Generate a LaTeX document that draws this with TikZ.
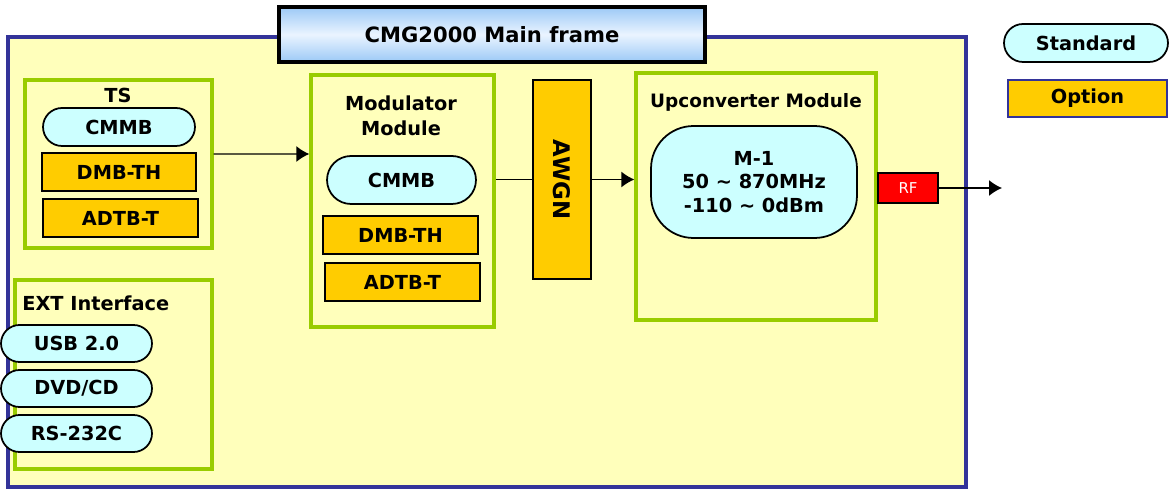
\documentclass[tikz,border=0pt]{standalone}
\usepackage{fontspec}
\setmainfont{DejaVu Sans}
\usetikzlibrary{arrows.meta}
\definecolor{frameyellow}{HTML}{FFFFBB}
\definecolor{frameblue}{HTML}{333399}
\definecolor{boxgreen}{HTML}{99CC00}
\definecolor{stdcyan}{HTML}{CCFFFF}
\definecolor{optorange}{HTML}{FFCC00}
\definecolor{titleblue}{HTML}{9CC9F6}
\definecolor{titlelight}{HTML}{EAF4FF}

\begin{document}
\begin{tikzpicture}[x=0.02cm,y=-0.02cm,font=\bfseries\fontsize{11}{13}\selectfont]

	\tikzstyle{mybox}=[draw=boxgreen,line width=1.9pt,fill=frameyellow,inner sep=0pt]
	\tikzstyle{mypill}=[draw=black,line width=1pt,fill=stdcyan,inner sep=0pt,rounded corners=0.38cm,minimum height=0.76cm]
	\tikzstyle{myopt}=[draw=black,line width=1pt,fill=optorange,inner sep=0pt,minimum height=0.76cm]
	\tikzstyle{myarrow}=[line width=0.8pt,-{Latex[length=0.26cm,width=0.32cm]}]

	\useasboundingbox (0,0) rectangle (1176,489);

	% main frame and title
	\node[draw=frameblue,line width=2.2pt,fill=frameyellow,minimum width=19.16cm,minimum height=9cm] (frame) at (487,262) {};
	\node[draw=black,line width=2.2pt,top color=titleblue,bottom color=titleblue,middle color=titlelight,
		minimum width=8.52cm,minimum height=1.1cm,font=\bfseries\fontsize{12}{14}\selectfont] (title) at (492,34.5) {CMG2000 Main frame};

	% TS
	\node[mybox,minimum width=3.74cm,minimum height=3.36cm] (ts) at (118.5,164) {};
	\node (tslabel) at (118,95) {TS};
	\node[mypill,minimum width=3.04cm] (tscmmb) at (119,127) {CMMB};
	\node[myopt,minimum width=3.08cm] (tsdmb) at (119,172) {DMB-TH};
	\node[myopt,minimum width=3.1cm] (tsadtb) at (120.5,218) {ADTB-T};

	% Modulator
	\node[mybox,minimum width=3.66cm,minimum height=5.04cm] (mod) at (402.5,201) {};
	\node[align=center,font=\bfseries\fontsize{11}{14.5}\selectfont] (modlabel) at (401,116) {Modulator\\Module};
	\node[mypill,minimum width=2.98cm,minimum height=0.96cm,rounded corners=0.48cm] (modcmmb) at (401.5,180) {CMMB};
	\node[myopt,minimum width=3.1cm] (moddmb) at (400.5,235) {DMB-TH};
	\node[myopt,minimum width=3.1cm] (modadtb) at (402.5,282) {ADTB-T};

	% AWGN
	\node[myopt,minimum width=1.16cm,minimum height=3.98cm,
		label={[rotate=-90,font=\bfseries\fontsize{13}{15}\selectfont]center:AWGN}] (awgn) at (562,179.5) {};

	% Upconverter
	\node[mybox,minimum width=4.8cm,minimum height=4.94cm] (up) at (756,196.5) {};
	\node[font=\bfseries\fontsize{10.5}{12}\selectfont] (uplabel) at (756,102) {Upconverter Module};
	\node[draw=black,line width=1pt,fill=stdcyan,rounded corners=0.85cm,minimum width=4.12cm,minimum height=2.24cm,
		align=center,font=\bfseries\fontsize{11}{13.5}\selectfont] (mone) at (754,182) {M-1\\50 \char`\~{} 870MHz\\-110 \char`\~{} 0dBm};
	\node[draw=black,line width=1.2pt,fill=red,text=white,minimum width=1.2cm,minimum height=0.6cm,inner sep=0pt,
		font=\fontsize{8.5}{10}\selectfont] (rf) at (908,188) {RF};
	\coordinate (rfout) at (1002,188);

	% EXT Interface
	\node[mybox,minimum width=3.94cm,minimum height=3.78cm] (ext) at (113.5,374.5) {};
	\node[anchor=west,inner sep=0pt] (extlabel) at (22,303) {EXT Interface};
	\foreach \name/\txt/\y in {usb/{USB 2.0}/343.5,dvd/{DVD/CD}/388.5,rs/{RS-232C}/433.5}
		{ \node[mypill,minimum width=3.02cm,minimum height=0.74cm,rounded corners=0.37cm] (\name) at (76.5,\y) {\txt}; }

	% legend
	\node[mypill,minimum width=3.28cm] (std) at (1086,43) {Standard};
	\node[myopt,draw=frameblue,minimum width=3.18cm,minimum height=0.74cm] (opt) at (1087.5,98.5) {Option};

	% signal path
	\draw[myarrow] ([yshift=0.2cm]ts.east) -- ([yshift=0.94cm]mod.west);
	\draw[line width=0.8pt] (awgn.west -| mod.east) -- (awgn.west);
	\draw[myarrow] (awgn.east) -- (awgn.east -| up.west);
	\draw[myarrow] (rf.east) -- (rfout);
\end{tikzpicture}
\end{document}
